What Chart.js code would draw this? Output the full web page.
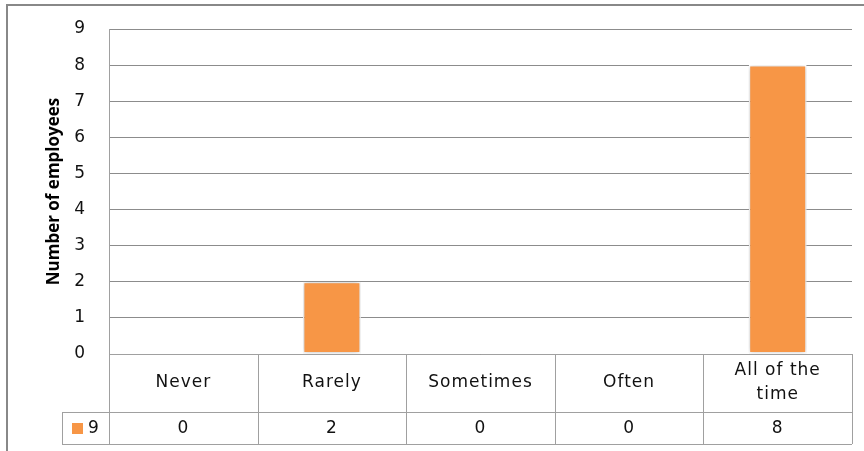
<!DOCTYPE html>
<html>
<head>
<meta charset="utf-8">
<script src="https://cdn.jsdelivr.net/npm/chart.js@4"></script>
<style>
  html, body { margin: 0; padding: 0; background: #fff; }
  #wrap { width: 864px; height: 451px; }
</style>
</head>
<body>
<div id="wrap"><canvas id="freqChart" width="864" height="451"></canvas></div>
<script>
const categories = ['Never', 'Rarely', 'Sometimes', 'Often', ['All of the', 'time']];
const seriesName = '9';
const employees = [0, 2, 0, 0, 8];
const yTicks = [0, 1, 2, 3, 4, 5, 6, 7, 8, 9];

const barColor = '#F79646';
const lineColor = '#8C8C8C';
const tableLine = '#A0A0A0';
const textFont = '"DejaVu Sans", sans-serif';
const titleFont = '"Open Sans", sans-serif';

// outer frame (top + left edges only show in the frame)
const framePlugin = {
  id: 'frame',
  beforeDraw(chart) {
    const ctx = chart.ctx;
    ctx.save();
    ctx.strokeStyle = '#888';
    ctx.lineWidth = 2;
    ctx.beginPath();
    ctx.moveTo(7, 451);
    ctx.lineTo(7, 5);
    ctx.lineTo(864, 5);
    ctx.stroke();
    ctx.restore();
  }
};

// soft shadow around the bars
const barShadow = {
  id: 'barShadow',
  beforeDatasetsDraw(chart) {
    const ctx = chart.ctx;
    ctx.save();
    ctx.shadowColor = 'rgba(0,0,0,0.28)';
    ctx.shadowBlur = 5;
  },
  afterDatasetsDraw(chart) {
    chart.ctx.restore();
  }
};

// data table under the plot: category row + value row with legend key
const dataTable = {
  id: 'dataTable',
  afterDraw(chart) {
    const ctx = chart.ctx;
    const area = chart.chartArea;
    const xs = chart.scales.x;
    const n = categories.length;
    const step = (area.right - area.left) / n;
    const row1 = area.bottom;
    const row2 = row1 + 58;
    const bottom = row2 + 32;
    const keyLeft = 62;

    ctx.save();
    ctx.strokeStyle = tableLine;
    ctx.lineWidth = 1;
    ctx.beginPath();
    ctx.moveTo(area.left, row1 + 0.5); ctx.lineTo(area.right, row1 + 0.5);
    ctx.moveTo(keyLeft, row2 + 0.5); ctx.lineTo(area.right, row2 + 0.5);
    ctx.moveTo(keyLeft, bottom + 0.5); ctx.lineTo(area.right, bottom + 0.5);
    ctx.moveTo(keyLeft + 0.5, row2); ctx.lineTo(keyLeft + 0.5, bottom);
    for (let i = 0; i <= n; i++) {
      const x = Math.round(area.left + i * step) + 0.5;
      ctx.moveTo(x, row1); ctx.lineTo(x, bottom);
    }
    ctx.stroke();

    ctx.fillStyle = '#111';
    ctx.font = '17px ' + textFont;
    ctx.letterSpacing = '1px';
    ctx.textAlign = 'center';
    ctx.textBaseline = 'middle';
    categories.forEach((c, i) => {
      const cx = xs.getPixelForValue(i);
      const lines = Array.isArray(c) ? c : [c];
      const mid = (row1 + row2) / 2;
      lines.forEach((t, j) => {
        ctx.fillText(t, cx, mid + (j - (lines.length - 1) / 2) * 24);
      });
      ctx.fillText(String(employees[i]), cx, (row2 + bottom) / 2 + 1);
    });

    // legend key
    ctx.fillStyle = barColor;
    ctx.fillRect(72, row2 + 11, 11, 11);
    ctx.fillStyle = '#111';
    ctx.textAlign = 'left';
    ctx.fillText(seriesName, 88, (row2 + bottom) / 2 + 1);
    ctx.restore();
  }
};

new Chart(document.getElementById('freqChart'), {
  type: 'bar',
  data: {
    labels: categories,
    datasets: [{
      label: seriesName,
      data: employees,
      backgroundColor: barColor,
      borderColor: '#fff',
      borderWidth: 1.5,
      borderSkipped: false,
      barPercentage: 0.39,
      categoryPercentage: 1
    }]
  },
  options: {
    responsive: false,
    animation: false,
    events: [],
    layout: { padding: { left: 40, top: 29, right: 12, bottom: 97 } },
    plugins: {
      legend: { display: false },
      tooltip: { enabled: false }
    },
    scales: {
      x: { display: false },
      y: {
        min: yTicks[0],
        max: yTicks[yTicks.length - 1],
        afterBuildTicks(scale) {
          scale.ticks = yTicks.map(v => ({ value: v }));
        },
        afterFit(scale) {
          scale.width = 69;
          scale.paddingTop = 0;
          scale.paddingBottom = 0;
        },
        grid: { color: lineColor, lineWidth: 1, drawTicks: false },
        border: { display: true, color: tableLine, width: 1 },
        ticks: {
          padding: 24,
          color: '#111',
          font: { family: textFont, size: 17 }
        },
        title: {
          display: true,
          text: 'Number of employees',
          color: '#000',
          padding: { top: 4, bottom: 0 },
          font: { family: titleFont, size: 17, weight: 'bold' }
        }
      }
    }
  },
  plugins: [framePlugin, barShadow, dataTable]
});
</script>
</body>
</html>
